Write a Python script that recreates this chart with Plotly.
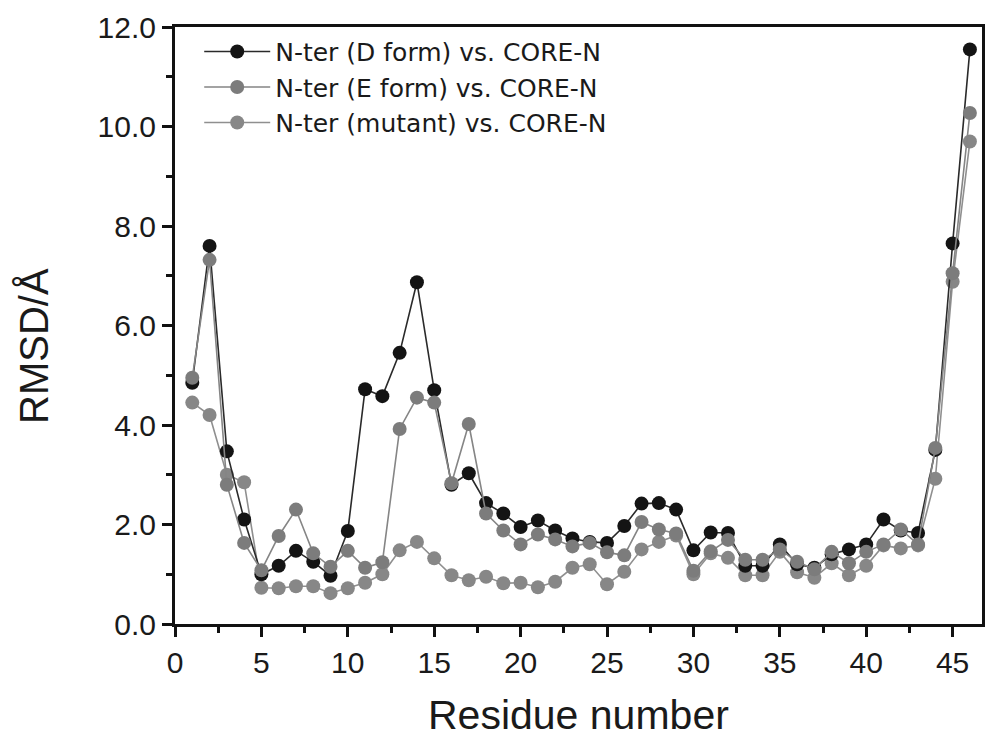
import plotly.graph_objects as go

residues = list(range(1, 47))

d_form = [4.85, 7.60, 3.47, 2.10, 1.00, 1.17, 1.47, 1.25, 0.97, 1.87,
          4.72, 4.58, 5.45, 6.87, 4.70, 2.80, 3.03, 2.43, 2.22, 1.95,
          2.08, 1.88, 1.72, 1.65, 1.63, 1.97, 2.42, 2.43, 2.30, 1.48,
          1.84, 1.83, 1.17, 1.17, 1.60, 1.20, 1.13, 1.40, 1.50, 1.60,
          2.10, 1.88, 1.83, 3.50, 7.65, 11.55]

e_form = [4.95, 7.32, 2.80, 1.63, 1.08, 1.77, 2.30, 1.42, 1.15, 1.47,
          1.13, 1.24, 3.92, 4.55, 4.45, 2.83, 4.02, 2.22, 1.88, 1.60,
          1.80, 1.70, 1.56, 1.63, 1.44, 1.38, 2.05, 1.90, 1.82, 1.07,
          1.46, 1.69, 1.29, 1.29, 1.50, 1.25, 1.10, 1.45, 1.22, 1.45,
          1.60, 1.90, 1.60, 3.54, 7.05, 10.27]

mutant = [4.45, 4.20, 3.00, 2.85, 0.73, 0.72, 0.76, 0.76, 0.62, 0.72,
          0.83, 1.00, 1.48, 1.65, 1.32, 0.98, 0.88, 0.95, 0.82, 0.83,
          0.74, 0.85, 1.13, 1.20, 0.80, 1.05, 1.50, 1.65, 1.78, 1.00,
          1.42, 1.33, 0.98, 0.98, 1.45, 1.04, 0.93, 1.22, 0.98, 1.17,
          1.58, 1.52, 1.58, 2.92, 6.88, 9.70]

names = ["N-ter (D form) vs. CORE-N",
         "N-ter (E form) vs. CORE-N",
         "N-ter (mutant) vs. CORE-N"]

x_ticks = [0, 5, 10, 15, 20, 25, 30, 35, 40, 45]
y_ticks = [0, 2, 4, 6, 8, 10, 12]
y_tick_text = ["0.0", "2.0", "4.0", "6.0", "8.0", "10.0", "12.0"]

FONT = "Liberation Sans, Arial, sans-serif"
LEG_FONT = "DejaVu Sans, sans-serif"

fig = go.Figure()

# draw order: mutant, D, E (E on top); legend order by legendrank
fig.add_trace(go.Scatter(
    x=residues, y=mutant, name=names[2], mode="lines+markers",
    line=dict(color="#8f8f8f", width=1.6),
    marker=dict(color="#878787", size=14, line=dict(width=0)),
    legendrank=3))
fig.add_trace(go.Scatter(
    x=residues, y=d_form, name=names[0], mode="lines+markers",
    line=dict(color="#2a2a2a", width=1.6),
    marker=dict(color="#141414", size=14, line=dict(width=0)),
    legendrank=1))
fig.add_trace(go.Scatter(
    x=residues, y=e_form, name=names[1], mode="lines+markers",
    line=dict(color="#858585", width=1.6),
    marker=dict(color="#7c7c7c", size=14, line=dict(width=0)),
    legendrank=2))

axis_common = dict(
    showline=True, linecolor="#111111", linewidth=3, mirror=True,
    ticks="outside", tickcolor="#111111", tickwidth=2.5, ticklen=10,
    showgrid=False, zeroline=False,
    tickfont=dict(family=FONT, size=30, color="#1a1a1a"),
)

fig.update_layout(
    width=990, height=752,
    margin=dict(l=175, r=5, t=27, b=128),
    paper_bgcolor="white", plot_bgcolor="white",
    showlegend=True,
    legend=dict(
        x=0.03, y=0.997, xanchor="left", yanchor="top",
        bgcolor="rgba(0,0,0,0)", borderwidth=0,
        font=dict(family=LEG_FONT, size=25, color="#1a1a1a"),
        itemwidth=66, tracegroupgap=0,
    ),
    xaxis=dict(range=[0, 46.7], tickmode="array", tickvals=x_ticks,
               minor=dict(dtick=2.5, ticks="outside", ticklen=6, tickwidth=2.5,
                          tickcolor="#111111"),
               **axis_common),
    yaxis=dict(range=[0, 12], tickmode="array", tickvals=y_ticks,
               ticktext=y_tick_text,
               minor=dict(dtick=1, ticks="outside", ticklen=6, tickwidth=2.5,
                          tickcolor="#111111"),
               **axis_common),
    annotations=[
        dict(text="Residue number", xref="paper", yref="paper",
             x=0.5, y=-0.152, xanchor="center", yanchor="middle",
             showarrow=False,
             font=dict(family=FONT, size=41, color="#1a1a1a")),
        dict(text="RMSD/Å", xref="paper", yref="paper",
             x=-0.174, y=0.465, xanchor="center", yanchor="middle",
             textangle=-90, showarrow=False,
             font=dict(family=FONT, size=40, color="#1a1a1a")),
    ],
)

fig.write_html("out.html")
